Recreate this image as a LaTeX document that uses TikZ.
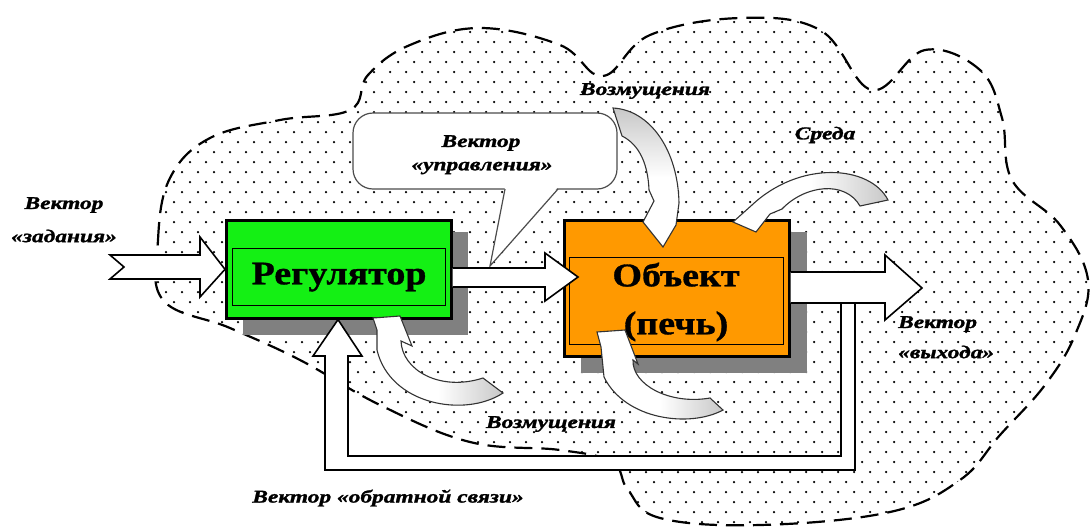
\documentclass[tikz,border=0pt]{standalone}
\usepackage{fontspec}
\setmainfont{Liberation Serif}
\newfontfamily\labfont[FakeStretch=1.3,FakeBold=1.5]{Liberation Serif}
\newfontfamily\boxfont[FakeStretch=1.15,FakeBold=1]{Liberation Serif}
\definecolor{reggreen}{RGB}{20,240,20}
\definecolor{objorange}{RGB}{255,153,0}
\definecolor{shadowgray}{RGB}{128,128,128}
\definecolor{tailgray}{RGB}{200,200,200}
\begin{document}
\begin{tikzpicture}[x=1pt,y=-1pt,line join=miter,
  cloudline/.style={line width=2.2pt,dash pattern=on 18pt off 9pt},
  blockarrow/.style={draw=black,line width=1.6pt,fill=white},
  mainbox/.style={draw=black,line width=2.6pt},
  innerbox/.style={draw=black,line width=1.1pt},
  curvearrow/.style={draw=black!80,line width=1.1pt},
  lab/.style={font=\labfont\bfseries\itshape\fontsize{18}{19}\selectfont,inner sep=0pt,align=center},
  boxtext/.style={font=\boxfont\bfseries\fontsize{33}{48}\selectfont,inner sep=0pt,align=center}]
\useasboundingbox (0,0) rectangle (1092,531);
% environment cloud: dotted interior
\begin{scope}
\clip plot[smooth cycle,tension=0.65] coordinates {
 (163,300) (158,240) (170,178) (210,138) (280,120) (350,110) (368,75) (410,45) (480,28) (560,45) (603,76)
 (650,35) (740,18) (820,30) (872,90) (925,50) (980,70) (1002,118) (1012,180) (1060,225) (1088,280) (1075,335) (1045,385)
 (1000,435) (960,480) (890,512) (760,525) (660,518) (628,490) (612,462) (560,450) (470,442) (380,405) (300,360) (230,328)};
\foreach \j in {0,...,52}{
  \foreach \i in {0,...,60}{
    \fill ({150+16*\i+8*mod(\j,2)},{12+10*\j}) circle (1.25pt);
  }
}
\end{scope}
\draw[cloudline] plot[smooth cycle,tension=0.65] coordinates {
 (163,300) (158,240) (170,178) (210,138) (280,120) (350,110) (368,75) (410,45) (480,28) (560,45) (603,76)
 (650,35) (740,18) (820,30) (872,90) (925,50) (980,70) (1002,118) (1012,180) (1060,225) (1088,280) (1075,335) (1045,385)
 (1000,435) (960,480) (890,512) (760,525) (660,518) (628,490) (612,462) (560,450) (470,442) (380,405) (300,360) (230,328)};
% speech bubble
\draw[draw=black!70,line width=1.2pt,fill=white,rounded corners=20pt] (353,113) rectangle (617,189);
\fill[white] (505,187) -- (490,266) -- (558,187) -- cycle;
\draw[draw=black!70,line width=1.2pt] (505,189) -- (490,266) -- (558,189);
\node[lab] (ctrl) at (481,143) {Вектор};
\node[lab] (ctrl2) at (482,168) {«управления»};
% shadows
\fill[shadowgray] (243,232) rectangle (468,335);
\fill[shadowgray] (581,232) rectangle (807,373);
% regulator box
\node[mainbox,fill=reggreen,minimum width=225pt,minimum height=98pt,anchor=north west] (reg) at (225,219) {};
\node[innerbox,minimum width=213pt,minimum height=57pt,anchor=north west] (regin) at (232,248) {};
\node[boxtext] (regtxt) at (regin.center) {Регулятор};
% object box
\node[mainbox,fill=objorange,minimum width=225pt,minimum height=136pt,anchor=north west] (obj) at (563,219) {};
\node[innerbox,minimum width=214pt,minimum height=87pt,anchor=north west] (objin) at (569,257) {};
\node[boxtext] (objtxt) at (676,302) {Объект\\(печь)};
% input arrow
\coordinate (intail) at (110,267);
\draw[blockarrow] (intail) ++(0,-12) -- (200,255) -- (200,237) -- (reg.west) -- (200,297) -- (200,279) -- (110,279) -- (124,267) -- cycle;
% regulator -> object arrow
\draw[blockarrow] (reg.east |- 0,268) -- (545,268) -- (545,253) -- (578,277) -- (545,301) -- (545,287) -- (reg.east |- 0,287);
% output arrow
\draw[blockarrow] (obj.east |- 0,272) -- (885,272) -- (885,255) -- (922,288) -- (885,320) -- (885,303) -- (obj.east |- 0,303);
% feedback
\draw[blockarrow] (841,304) -- (841,456) -- (348,456) -- (348,356) -- (362,356) -- (reg.south -| 338,0) -- (313,356) -- (325,356) -- (325,470) -- (855,470) -- (855,304);
% curved arrows (disturbances)
\shade[top color=tailgray,bottom color=white,middle color=white] (613,108) .. controls (650,110) and (678,150) .. (679,203) -- (676,225) -- (663,247) -- (643,222) -- (654,201) -- (649,190) .. controls (648,165) and (640,145) .. (622,136) -- cycle;
\draw[curvearrow] (613,108) .. controls (650,110) and (678,150) .. (679,203) -- (676,225) -- (663,247) -- (643,222) -- (654,201) -- (649,190) .. controls (648,165) and (640,145) .. (622,136) -- cycle;
\shade[right color=tailgray,left color=white,middle color=white] (888,200) .. controls (870,165) and (800,160) .. (752,205) -- (733,222) -- (756,232) -- (770,214) -- (782,209) .. controls (805,185) and (845,180) .. (860,206) -- cycle;
\draw[curvearrow] (888,200) .. controls (870,165) and (800,160) .. (752,205) -- (733,222) -- (756,232) -- (770,214) -- (782,209) .. controls (805,185) and (845,180) .. (860,206) -- cycle;
\shade[right color=tailgray,left color=white,middle color=white] (503,393) .. controls (465,418) and (390,405) .. (377,350) -- (377,330) -- (373,318) -- (400,316) -- (412,346) -- (401,341) .. controls (402,370) and (440,392) .. (483,378) -- cycle;
\draw[curvearrow] (503,393) .. controls (465,418) and (390,405) .. (377,350) -- (377,330) -- (373,318) -- (400,316) -- (412,346) -- (401,341) .. controls (402,370) and (440,392) .. (483,378) -- cycle;
\shade[right color=tailgray,left color=white,middle color=white] (723,410) .. controls (690,428) and (625,420) .. (604,377) -- (601,347) -- (597,332) -- (625,330) -- (638,364) -- (633,360) .. controls (632,385) and (670,405) .. (710,398) -- cycle;
\draw[curvearrow] (723,410) .. controls (690,428) and (625,420) .. (604,377) -- (601,347) -- (597,332) -- (625,330) -- (638,364) -- (633,360) .. controls (632,385) and (670,405) .. (710,398) -- cycle;
% labels
\node[lab] (setp) at (64,205) {Вектор};
\node[lab] (setp2) at (64,236) {«задания»};
\node[lab] (dist1) at (645,91) {Возмущения};
\node[lab] (env) at (825,135) {Среда};
\node[lab,anchor=west] (outv) at (898,324) {Вектор};
\node[lab,anchor=west] (outv2) at (898,352) {«выхода»};
\node[lab] (dist2) at (551,424) {Возмущения};
\node[lab] (fbv) at (388,498) {Вектор «обратной связи»};
\end{tikzpicture}
\end{document}
